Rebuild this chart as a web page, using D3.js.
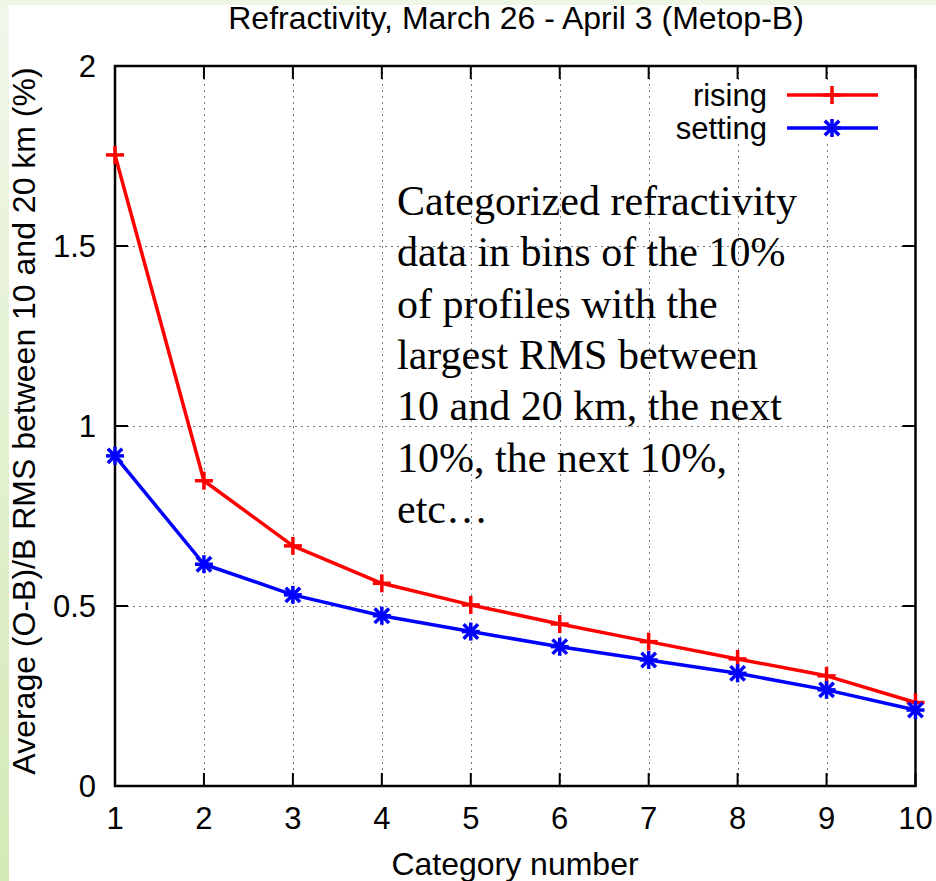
<!DOCTYPE html>
<html>
<head>
<meta charset="utf-8">
<script src="https://cdn.jsdelivr.net/npm/d3@7"></script>
<style>
  html, body { margin: 0; padding: 0; background: #fff; }
  svg { display: block; }
</style>
</head>
<body>
<svg id="chart" width="936" height="881"></svg>
<script>
// ---- data ----
const categories = [1, 2, 3, 4, 5, 6, 7, 8, 9, 10];
const rising  = [1.753, 0.848, 0.667, 0.563, 0.503, 0.450, 0.401, 0.353, 0.306, 0.232];
const setting = [0.917, 0.616, 0.531, 0.473, 0.429, 0.387, 0.350, 0.313, 0.267, 0.211];
const yTicks = [0, 0.5, 1, 1.5, 2];
const yTickLabels = ["0", "0.5", "1", "1.5", "2"];
const xTickLabels = ["1", "2", "3", "4", "5", "6", "7", "8", "9", "10"];
const seriesNames = ["rising", "setting"];
const titleText = "Refractivity, March 26 - April 3 (Metop-B)";
const xLabel = "Category number";
const yLabel = "Average (O-B)/B RMS between 10 and 20 km (%)";
const noteLines = [
  "Categorized refractivity",
  "data in bins of the 10%",
  "of profiles with the",
  "largest RMS between",
  "10 and 20 km, the next",
  "10%, the next 10%,",
  "etc\u2026"
];

// ---- layout ----
const svg = d3.select("#chart");
const W = 936, H = 881;
const L = 115, R = 915.5, T = 66, B = 786;
const sans = "'Liberation Sans', Arial, Helvetica, sans-serif";
const serif = "'Liberation Serif', 'Times New Roman', serif";

// background (slide-like green gradient edge)
const defs = svg.append("defs");
const grad = defs.append("linearGradient").attr("id", "bg").attr("x1", 0).attr("y1", 0).attr("x2", 0).attr("y2", 1);
grad.append("stop").attr("offset", "0%").attr("stop-color", "#f1f7ea");
grad.append("stop").attr("offset", "100%").attr("stop-color", "#d3eab5");
svg.append("rect").attr("x", 0).attr("y", 0).attr("width", W).attr("height", H).attr("fill", "url(#bg)");
svg.append("rect").attr("x", 0).attr("y", 0).attr("width", W).attr("height", 5).attr("fill", "#eef6e6");
svg.append("rect").attr("x", 9).attr("y", 5).attr("width", W - 9).attr("height", H - 5).attr("fill", "#ffffff");

const x = d3.scaleLinear().domain([1, 10]).range([L, R]);
const y = d3.scaleLinear().domain([0, 2]).range([B, T]);

// grid
const grid = svg.append("g").attr("stroke", "#777").attr("stroke-width", 1).attr("stroke-dasharray", "2,4");
grid.selectAll("line.gx").data(categories.slice(1, -1)).join("line")
  .attr("x1", d => Math.round(x(d)) + 0.5).attr("x2", d => Math.round(x(d)) + 0.5)
  .attr("y1", T).attr("y2", B);
grid.selectAll("line.gy").data(yTicks.slice(1, -1)).join("line")
  .attr("y1", d => Math.round(y(d)) + 0.5).attr("y2", d => Math.round(y(d)) + 0.5)
  .attr("x1", L).attr("x2", R);

// legend background masks grid
svg.append("rect").attr("x", 668).attr("y", 80).attr("width", 236).attr("height", 63).attr("fill", "#fff");

// ticks (inward, mirrored)
const tk = 13;
const ticks = svg.append("g").attr("stroke", "#000").attr("stroke-width", 2);
categories.forEach(d => {
  const xx = x(d);
  ticks.append("line").attr("x1", xx).attr("x2", xx).attr("y1", B).attr("y2", B - tk);
  ticks.append("line").attr("x1", xx).attr("x2", xx).attr("y1", T).attr("y2", T + tk);
});
yTicks.forEach(d => {
  const yy = y(d);
  ticks.append("line").attr("x1", L).attr("x2", L + tk).attr("y1", yy).attr("y2", yy);
  ticks.append("line").attr("x1", R).attr("x2", R - tk).attr("y1", yy).attr("y2", yy);
});

// frame
svg.append("rect").attr("x", L).attr("y", T).attr("width", R - L).attr("height", B - T)
  .attr("fill", "none").attr("stroke", "#000").attr("stroke-width", 2.5);

// tick labels
svg.append("g").selectAll("text").data(yTicks).join("text")
  .attr("x", 96).attr("y", d => y(d)).attr("dy", "0.36em")
  .attr("text-anchor", "end").attr("font-family", sans).attr("font-size", 31)
  .text((d, i) => yTickLabels[i]);
svg.append("g").selectAll("text").data(categories).join("text")
  .attr("x", d => x(d)).attr("y", 829)
  .attr("text-anchor", "middle").attr("font-family", sans).attr("font-size", 31)
  .text((d, i) => xTickLabels[i]);

// axis titles and title
svg.append("text").attr("x", 515).attr("y", 875).attr("text-anchor", "middle")
  .attr("font-family", sans).attr("font-size", 32).text(xLabel);
svg.append("text").attr("transform", "translate(35,421) rotate(-90)").attr("text-anchor", "middle")
  .attr("font-family", sans).attr("font-size", 32).text(yLabel);
svg.append("text").attr("x", 516).attr("y", 29).attr("text-anchor", "middle")
  .attr("font-family", sans).attr("font-size", 32).text(titleText);

// annotation
const note = svg.append("text").attr("font-family", serif).attr("font-size", 42).attr("fill", "#000");
noteLines.forEach((s, i) => {
  note.append("tspan").attr("x", 397).attr("y", 215 + i * 51.3).text(s);
});

// series
const colors = ["#ff0000", "#0000ff"];
const line = d3.line().x((d, i) => x(categories[i])).y(d => y(d));
const ms = 9;
const sw = 3.5;
function plus(g, cx, cy, color) {
  g.append("line").attr("x1", cx - ms).attr("x2", cx + ms).attr("y1", cy).attr("y2", cy).attr("stroke", color).attr("stroke-width", sw);
  g.append("line").attr("x1", cx).attr("x2", cx).attr("y1", cy - ms).attr("y2", cy + ms).attr("stroke", color).attr("stroke-width", sw);
}
function star(g, cx, cy, color) {
  plus(g, cx, cy, color);
  const s = ms * 0.8;
  g.append("line").attr("x1", cx - s).attr("x2", cx + s).attr("y1", cy - s).attr("y2", cy + s).attr("stroke", color).attr("stroke-width", sw);
  g.append("line").attr("x1", cx - s).attr("x2", cx + s).attr("y1", cy + s).attr("y2", cy - s).attr("stroke", color).attr("stroke-width", sw);
}
[rising, setting].forEach((vals, k) => {
  const g = svg.append("g");
  g.append("path").datum(vals).attr("d", line).attr("fill", "none")
    .attr("stroke", colors[k]).attr("stroke-width", sw).attr("stroke-linejoin", "round");
  vals.forEach((v, i) => (k === 0 ? plus : star)(g, x(categories[i]), y(v), colors[k]));
});

// legend
const legY = [95, 128];
seriesNames.forEach((name, k) => {
  const g = svg.append("g");
  g.append("text").attr("x", 767).attr("y", legY[k]).attr("dy", "0.36em").attr("text-anchor", "end")
    .attr("font-family", sans).attr("font-size", 31).text(name);
  g.append("line").attr("x1", 787).attr("x2", 878).attr("y1", legY[k]).attr("y2", legY[k])
    .attr("stroke", colors[k]).attr("stroke-width", sw);
  (k === 0 ? plus : star)(g, 832, legY[k], colors[k]);
});
</script>
</body>
</html>
